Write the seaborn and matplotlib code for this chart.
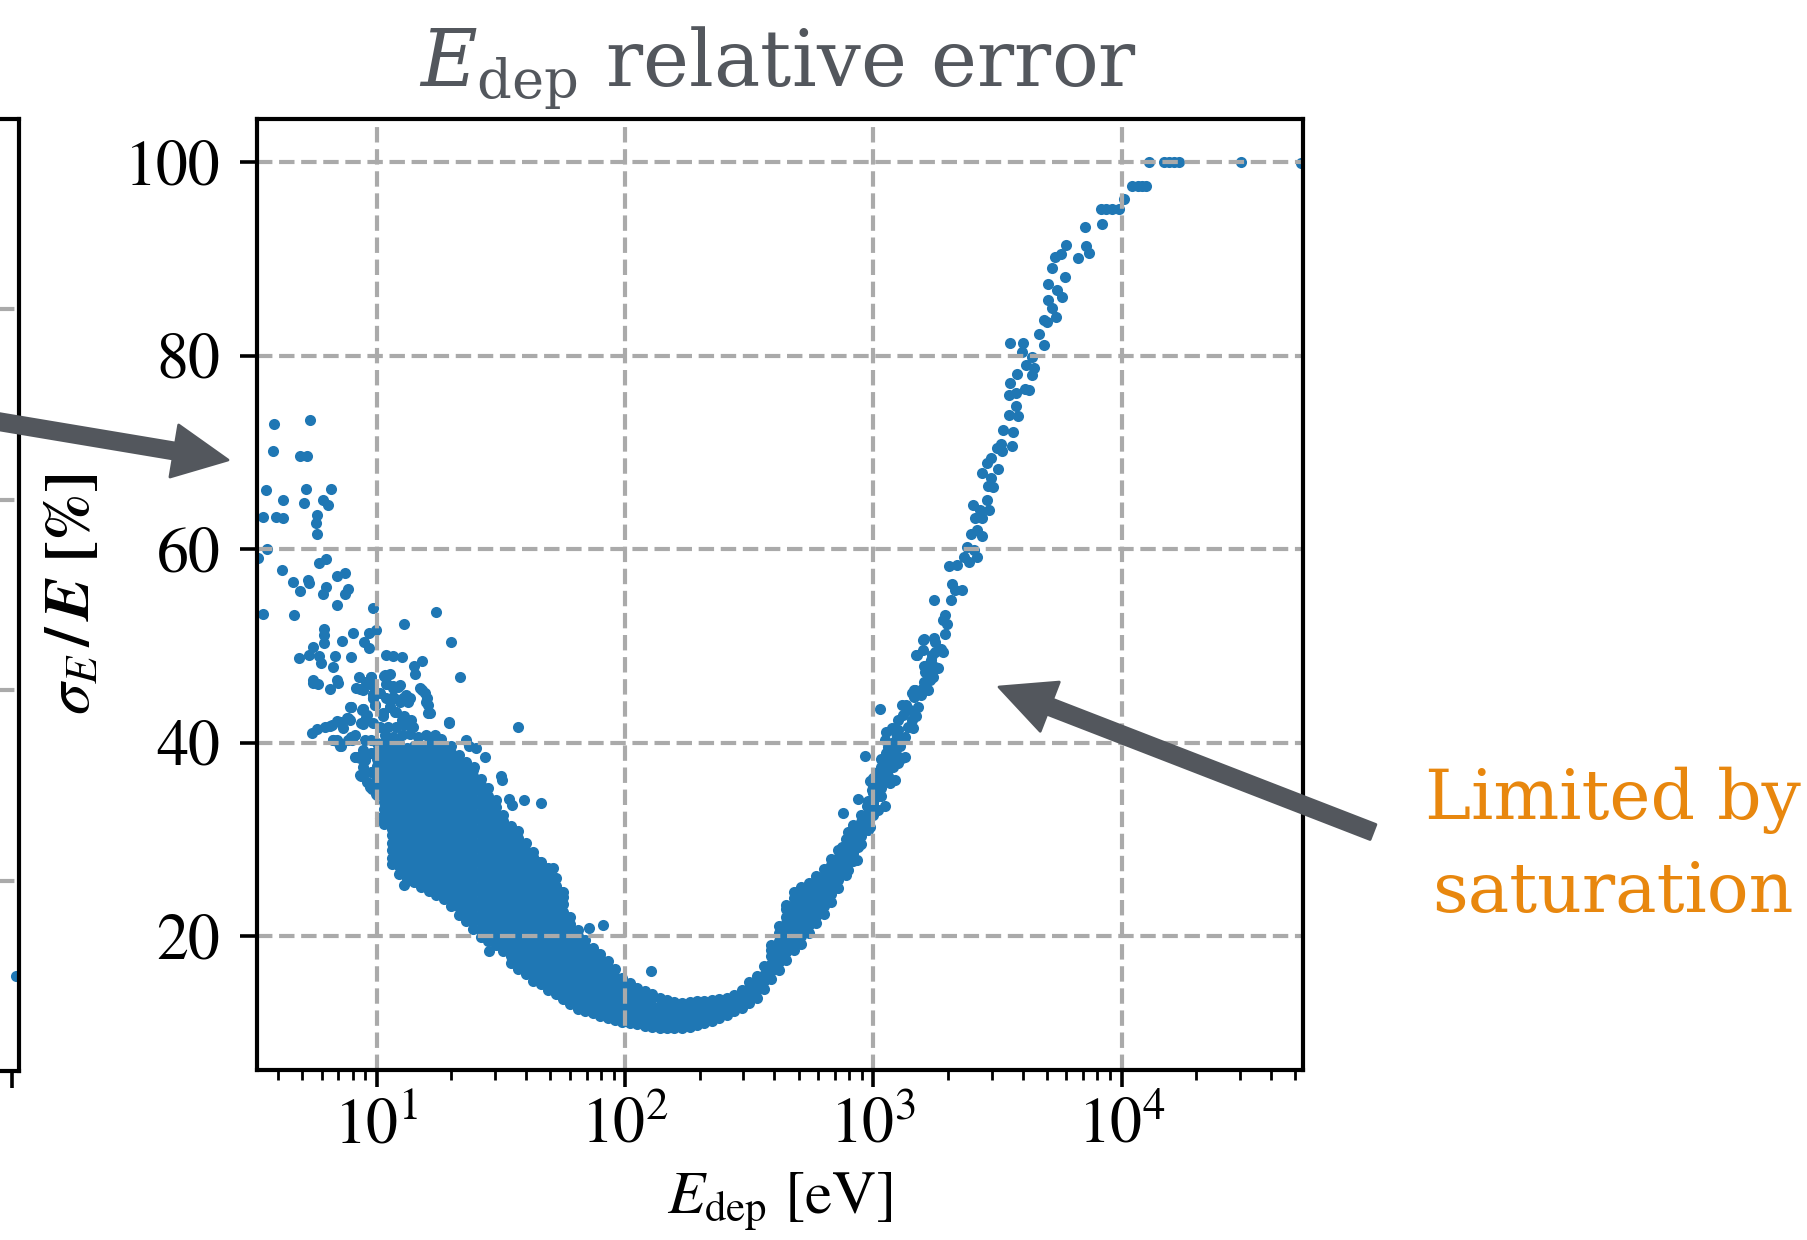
import matplotlib
matplotlib.use("Agg")
import matplotlib.pyplot as plt
import seaborn as sns
import numpy as np
from matplotlib.patches import FancyArrowPatch

# --- data ------------------------------------------------------------------
# dense band: one column of points per energy [eV]
band_e = [10.0, 10.7, 11.5, 12.3, 13.2, 14.1, 15.1, 16.2, 17.4, 18.6,
          20.0, 21.4, 22.9, 24.5, 26.3, 28.2, 30.2, 32.4, 34.7, 37.2,
          39.8, 42.7, 45.7, 49.0, 52.5, 56.2, 60.3, 64.6, 69.2, 74.1,
          79.4, 85.1, 91.2, 97.7, 105, 112, 120, 129, 138, 148,
          158, 170, 182, 195, 209, 224, 240, 257, 275, 295,
          316, 339, 363, 389, 417, 447, 479, 513, 550, 589,
          631, 676, 724, 776, 832, 891, 955, 1000, 1072, 1148, 1230]
band_y = [
    [34.6, 35.3, 36.1, 36.8, 37.6, 38.3, 39.1, 39.9],
    [31.6, 32.4, 33.1, 33.9, 34.6, 35.4, 36.1, 36.9, 37.6, 38.4, 39.1, 39.9],
    [27.4, 28.1, 28.9, 29.6, 30.4, 31.1, 31.9, 32.6, 33.4, 34.1, 34.9, 35.6, 36.4, 37.1, 37.9, 38.6, 39.4, 40.1],
    [26.4, 27.2, 27.9, 28.7, 29.4, 30.2, 30.9, 31.7, 32.4, 33.2, 33.9, 34.7, 35.4, 36.2, 36.9, 37.7, 38.4, 39.2, 39.9],
    [25.9, 26.6, 27.4, 28.1, 28.9, 29.6, 30.4, 31.1, 31.9, 32.6, 33.4, 34.1, 34.9, 35.6, 36.4, 37.1, 37.9, 38.6, 39.4],
    [25.6, 26.3, 27.1, 27.8, 28.6, 29.3, 30.1, 30.8, 31.6, 32.3, 33.1, 33.8, 34.6, 35.3, 36.1, 36.8, 37.6, 38.3, 39.1, 39.6],
    [25.1, 25.9, 26.6, 27.4, 28.1, 28.9, 29.6, 30.4, 31.1, 31.9, 32.6, 33.4, 34.1, 34.9, 35.6, 36.4, 37.1, 37.9, 38.6, 39.4],
    [24.7, 25.4, 26.2, 26.9, 27.7, 28.4, 29.2, 29.9, 30.7, 31.4, 32.2, 32.9, 33.7, 34.4, 35.2, 35.9, 36.7, 37.4, 38.2, 38.9, 39.7],
    [24.2, 25.0, 25.7, 26.5, 27.2, 28.0, 28.7, 29.5, 30.2, 31.0, 31.7, 32.5, 33.2, 34.0, 34.7, 35.5, 36.2, 37.0, 37.7, 38.5, 39.2, 40.0],
    [23.8, 24.5, 25.3, 26.0, 26.8, 27.5, 28.3, 29.0, 29.8, 30.5, 31.3, 32.0, 32.8, 33.5, 34.3, 35.0, 35.8, 36.5, 37.3, 38.0, 38.8, 39.5],
    [23.1, 23.9, 24.6, 25.4, 26.1, 26.9, 27.6, 28.4, 29.1, 29.9, 30.6, 31.4, 32.1, 32.9, 33.6, 34.4, 35.1, 35.9, 36.6, 37.4, 38.1, 38.9, 39.6],
    [22.2, 23.0, 23.7, 24.5, 25.2, 26.0, 26.7, 27.5, 28.2, 29.0, 29.7, 30.5, 31.2, 32.0, 32.7, 33.5, 34.2, 35.0, 35.7, 36.5, 37.2, 38.0, 38.7],
    [21.5, 22.2, 23.0, 23.7, 24.5, 25.2, 26.0, 26.7, 27.5, 28.2, 29.0, 29.7, 30.5, 31.2, 32.0, 32.7, 33.5, 34.2, 35.0, 35.7, 36.5, 37.2, 38.0],
    [20.7, 21.5, 22.2, 23.0, 23.7, 24.5, 25.2, 26.0, 26.7, 27.5, 28.2, 29.0, 29.7, 30.5, 31.2, 32.0, 32.7, 33.5, 34.2, 35.0, 35.7, 36.5, 37.2],
    [19.9, 20.6, 21.4, 22.1, 22.9, 23.6, 24.4, 25.1, 25.9, 26.6, 27.4, 28.1, 28.9, 29.6, 30.4, 31.1, 31.9, 32.6, 33.4, 34.1, 34.9, 35.6, 36.2],
    [19.5, 20.3, 21.0, 21.8, 22.5, 23.3, 24.0, 24.8, 25.5, 26.3, 27.0, 27.8, 28.5, 29.3, 30.0, 30.8, 31.5, 32.3, 33.0, 33.8, 34.5, 35.3],
    [19.1, 19.8, 20.6, 21.3, 22.1, 22.8, 23.6, 24.3, 25.1, 25.8, 26.6, 27.3, 28.1, 28.8, 29.6, 30.3, 31.1, 31.8, 32.6, 33.3, 34.1],
    [18.4, 19.2, 19.9, 20.7, 21.4, 22.2, 22.9, 23.7, 24.4, 25.2, 25.9, 26.7, 27.4, 28.2, 28.9, 29.7, 30.4, 31.2, 31.9, 32.5],
    [17.2, 17.9, 18.7, 19.4, 20.2, 20.9, 21.7, 22.4, 23.2, 23.9, 24.7, 25.4, 26.2, 26.9, 27.7, 28.4, 29.2, 29.9, 30.7, 31.4],
    [16.6, 17.4, 18.1, 18.9, 19.6, 20.4, 21.1, 21.9, 22.6, 23.4, 24.1, 24.9, 25.6, 26.4, 27.1, 27.9, 28.6, 29.4, 30.1, 30.9],
    [16.1, 16.8, 17.6, 18.3, 19.1, 19.8, 20.6, 21.3, 22.1, 22.8, 23.6, 24.3, 25.1, 25.8, 26.6, 27.3, 28.1, 28.8, 29.6],
    [15.4, 16.2, 16.9, 17.7, 18.4, 19.2, 19.9, 20.7, 21.4, 22.2, 22.9, 23.7, 24.4, 25.2, 25.9, 26.7, 27.4, 28.2, 28.7],
    [15.0, 15.7, 16.5, 17.2, 18.0, 18.7, 19.5, 20.2, 21.0, 21.7, 22.5, 23.2, 24.0, 24.7, 25.5, 26.2, 27.0, 27.7],
    [14.4, 15.2, 15.9, 16.7, 17.4, 18.2, 18.9, 19.7, 20.4, 21.2, 21.9, 22.7, 23.4, 24.2, 24.9, 25.7, 26.4, 27.0],
    [14.0, 14.7, 15.5, 16.2, 17.0, 17.7, 18.5, 19.2, 20.0, 20.7, 21.5, 22.2, 23.0, 23.7, 24.5, 25.2, 26.0],
    [13.5, 14.3, 15.0, 15.8, 16.5, 17.3, 18.0, 18.8, 19.5, 20.3, 21.0, 21.8, 22.5, 23.3, 24.0, 24.5],
    [13.0, 13.7, 14.5, 15.2, 16.0, 16.7, 17.5, 18.2, 19.0, 19.7, 20.5, 21.2, 22.0],
    [12.5, 13.3, 14.0, 14.8, 15.5, 16.3, 17.0, 17.8, 18.5, 19.3, 20.0, 20.6],
    [12.2, 12.9, 13.7, 14.4, 15.2, 15.9, 16.7, 17.4, 18.2, 18.9, 19.6],
    [12.0, 12.8, 13.5, 14.3, 15.0, 15.8, 16.5, 17.3, 18.0, 18.8],
    [11.7, 12.4, 13.2, 13.9, 14.7, 15.4, 16.2, 16.9, 17.7, 18.1],
    [11.5, 12.3, 13.0, 13.8, 14.5, 15.3, 16.0, 16.8, 17.4],
    [11.3, 12.0, 12.8, 13.5, 14.3, 15.0, 15.8, 16.6],
    [11.1, 11.9, 12.6, 13.4, 14.1, 14.9, 15.7],
    [11.0, 11.7, 12.5, 13.2, 14.0, 14.7, 15.1],
    [10.9, 11.6, 12.4, 13.1, 13.9, 14.6],
    [10.7, 11.5, 12.2, 13.0, 13.7, 14.3],
    [10.6, 11.3, 12.1, 12.8, 13.6, 14.0],
    [10.5, 11.3, 12.0, 12.8, 13.6],
    [10.5, 11.2, 12.0, 12.7, 13.4],
    [10.5, 11.3, 12.0, 12.8, 13.2],
    [10.5, 11.2, 12.0, 12.7, 13.1],
    [10.6, 11.4, 12.1, 12.9, 13.2],
    [10.8, 11.5, 12.3, 13.0, 13.3],
    [11.0, 11.8, 12.5, 13.3],
    [11.2, 11.9, 12.7, 13.4],
    [11.5, 12.3, 13.0, 13.5],
    [11.8, 12.5, 13.2, 13.6],
    [12.2, 12.9, 13.6, 13.9],
    [12.6, 13.3, 14.0, 14.4],
    [13.1, 13.8, 14.6, 15.2],
    [13.6, 14.4, 15.1, 15.9],
    [14.5, 15.3, 16.0, 16.9],
    [15.6, 16.4, 17.1, 17.9, 18.6, 19.1],
    [16.5, 17.3, 18.0, 18.8, 19.5, 20.3, 21.0],
    [17.5, 18.3, 19.0, 19.8, 20.5, 21.3, 22.0, 22.8, 23.2],
    [18.6, 19.4, 20.1, 20.9, 21.6, 22.4, 23.1, 23.9, 24.6],
    [19.2, 20.0, 20.7, 21.5, 22.2, 23.0, 23.7, 24.5, 25.1],
    [20.3, 21.1, 21.8, 22.6, 23.3, 24.1, 24.8, 25.5],
    [21.3, 22.1, 22.8, 23.6, 24.3, 25.1, 25.8, 26.2],
    [22.3, 23.1, 23.8, 24.6, 25.3, 26.1, 26.9],
    [23.5, 24.3, 25.0, 25.8, 26.5, 27.3, 28.0],
    [25.0, 25.8, 26.5, 27.3, 28.1, 28.9],
    [26.3, 27.0, 27.8, 28.5, 29.3, 30.0],
    [27.8, 28.6, 29.3, 30.1, 30.8, 31.5],
    [29.5, 30.3, 31.0, 31.8, 32.5],
    [31.0, 31.8, 32.5, 33.3, 34.0],
    [32.5, 33.3, 34.0, 34.8, 35.5, 36.3],
    [34.5, 35.3, 36.0, 36.8, 37.5, 38.3],
    [36.5, 37.3, 38.0, 38.8, 39.5],
    [38.0, 38.8, 39.5, 40.3, 41.0],
]

# scattered points at low energy (left wing)
left_e = [3.87, 5.38, 3.81, 4.92, 5.23, 3.58, 5.19, 6.52, 4.21, 5.11,
          6.05, 6.34, 3.49, 3.93, 4.21, 5.74, 5.69, 5.73, 3.61, 3.34,
          4.15, 5.87, 6.24, 6.90, 7.46, 4.62, 5.27, 5.35, 4.92, 6.05,
          6.24, 7.46, 7.69, 6.90, 3.49, 4.63, 9.66, 17.3, 12.9, 19.9,
          6.14, 6.14, 6.14, 7.99, 7.28, 9.30, 9.90, 8.90, 9.30, 5.52,
          5.35, 5.83, 5.95, 4.85, 6.80, 6.68, 7.86, 10.9, 11.6, 12.6,
          15.2, 14.1, 5.52, 6.94, 8.49, 9.46, 10.7, 14.3, 21.7,
          5.56, 5.82, 6.48, 7.00, 8.57, 9.40, 9.69, 11.0, 12.2, 11.7,
          12.8, 13.4, 15.2, 15.9, 16.1, 16.4, 7.80, 8.69, 9.10, 8.83,
          7.57, 7.11, 5.47, 5.73, 6.19, 6.48, 7.00, 6.68, 7.92, 8.30,
          8.97, 8.57, 9.10, 9.55, 10.5, 19.6,
          9.50, 10.9, 8.28, 8.80, 11.6, 12.4, 13.1, 13.6, 15.0, 15.6,
          15.8, 16.1, 7.90, 8.80, 9.06, 9.66, 9.80, 10.6, 11.3, 11.9,
          12.6, 13.6, 14.0, 19.5, 37.0, 6.60, 7.10, 7.67, 7.90, 6.90,
          7.20, 8.15, 8.55, 8.95, 8.80, 9.50, 10.4, 10.3, 12.9, 17.1,
          18.2, 22.9, 23.6, 25.1, 27.2, 24.7, 21.9, 31.7, 31.9, 26.8,
          34.2, 35.2, 39.3, 45.8, 39.9, 45.1, 51.1, 55.3,
          10.3, 10.9, 11.6, 12.4, 11.3, 12.0, 12.9, 10.6, 10.3, 11.1,
          12.0, 12.9, 13.8, 10.8, 11.6, 12.6, 13.6, 14.7, 15.8, 16.8,
          11.6, 13.4, 9.08, 9.66, 9.51, 10.8, 11.3,
          7.91, 8.81, 9.08, 9.66, 9.82, 7.79, 8.68, 9.66, 6.89, 7.33,
          8.16, 8.95, 9.52, 8.81, 9.52, 8.28, 8.81, 9.52, 9.98, 8.68,
          9.37, 9.98, 6.68, 7.10, 7.67,
          28.4, 71.5, 81.6, 127]
left_y = [72.9, 73.3, 70.1, 69.6, 69.6, 66.1, 66.2, 66.2, 65.1, 64.8,
          65.1, 64.5, 63.3, 63.3, 63.2, 63.5, 62.7, 61.6, 60.0, 59.1,
          57.8, 58.6, 59.0, 57.2, 57.5, 56.6, 56.8, 56.5, 55.7, 55.4,
          56.1, 55.4, 55.9, 54.2, 53.3, 53.2, 53.9, 53.5, 52.3, 50.4,
          51.7, 51.1, 50.3, 51.3, 50.5, 51.3, 51.6, 50.4, 49.8, 49.9,
          49.0, 48.9, 48.2, 48.7, 48.9, 47.8, 48.8, 49.0, 48.9, 48.8,
          48.4, 47.9, 46.5, 46.5, 46.8, 46.8, 46.9, 47.1, 46.8,
          46.2, 46.0, 45.5, 46.2, 45.5, 46.1, 45.0, 46.1, 45.7, 44.6,
          44.6, 44.3, 45.4, 44.6, 43.9, 43.0, 43.7, 43.4, 42.8, 41.9,
          42.5, 42.1, 41.0, 41.4, 41.6, 41.7, 40.1, 40.3, 40.3, 38.5,
          38.3, 36.6, 35.9, 35.2, 32.3, 42.0,
          46.1, 46.1, 45.6, 45.4, 45.6, 45.9, 44.9, 44.6, 45.6, 45.1,
          44.2, 43.1, 43.7, 43.5, 42.5, 44.6, 43.9, 43.0, 43.7, 43.2,
          42.3, 41.8, 41.6, 42.1, 41.6, 41.8, 42.1, 42.5, 40.6, 40.3,
          39.6, 38.5, 38.4, 38.2, 36.6, 35.4, 35.1, 32.2, 25.3, 40.8,
          40.4, 40.3, 39.6, 39.4, 38.5, 37.5, 37.5, 36.5, 36.1, 35.1,
          34.2, 33.5, 34.1, 33.8, 28.2, 27.7, 27.0, 24.6,
          45.1, 44.6, 44.7, 44.2, 43.7, 43.2, 42.7, 42.7, 41.6, 41.6,
          41.6, 41.8, 42.3, 40.8, 40.6, 40.8, 40.9, 40.6, 40.8, 40.6,
          45.8, 44.2, 46.3, 46.1, 46.8, 47.0, 47.1,
          43.7, 43.5, 42.5, 44.6, 43.9, 42.3, 42.0, 42.0, 42.2, 41.5,
          40.8, 40.3, 40.3, 39.2, 38.9, 38.5, 37.5, 37.0, 36.1, 36.5,
          35.4, 34.7, 40.3, 39.6, 40.3,
          18.5, 20.8, 21.1, 16.4]

# rising arm above ~1 keV
arm_e = [690, 735, 793, 746, 818, 857, 782, 832, 871, 897,
         793, 757, 927, 971, 984, 871, 940, 1000, 1030, 1047,
         1114, 984, 1064, 971, 1114, 1167, 1222, 1047, 1130, 1202,
         1259, 1148, 1300, 1340, 927, 1130, 1222, 1186, 1279, 1114,
         1340, 1130, 1186, 1259, 1384, 1449, 1259, 1318, 1426, 1493,
         1300, 1069, 1403, 1517, 1426, 1469, 1563, 1589, 1663, 1611,
         1690, 1742, 1611, 1770, 1663, 1714, 1824, 1503, 1589, 1770,
         1879, 1770, 1589,
         1941, 1905, 1977, 1941, 1603, 1762, 1832, 1905, 1483, 1730,
         1603, 1663, 1762, 1698, 1603, 1455, 1542, 1349, 1455]
arm_y = [27.2, 27.9, 26.8, 29.2, 28.5, 27.9, 29.9, 30.3, 29.2, 31.3,
         30.8, 32.7, 32.0, 31.3, 32.7, 34.2, 33.4, 33.7, 34.4, 33.0,
         33.4, 35.1, 35.4, 36.0, 36.3, 35.8, 36.1, 37.0, 37.2, 37.5,
         37.9, 38.2, 38.4, 38.5, 38.6, 38.9, 39.2, 39.9, 39.6, 40.3,
         40.6, 41.1, 41.5, 41.3, 41.6, 41.5, 42.3, 42.8, 42.3, 42.7,
         43.9, 43.5, 43.4, 43.7, 45.1, 45.4, 44.9, 45.6, 45.4, 46.3,
         46.6, 46.8, 47.3, 47.8, 48.0, 48.5, 47.7, 49.0, 49.6, 49.4,
         49.7, 50.4, 50.6,
         53.2, 52.7, 52.3, 51.2, 50.7, 50.8, 49.7, 49.4, 49.0, 49.0,
         47.9, 47.6, 47.6, 46.5, 46.3, 45.4, 45.0, 43.9, 44.7]

# upper arm towards saturation
top_e = [11000, 11600, 12100, 12500, 10200, 8230, 8630, 9170, 9750, 8330,
         7120, 7160, 7390, 6680, 6000, 5370, 5710, 5260, 5930, 5070,
         5510, 5730, 5070, 5260, 5420, 4870, 5020, 4650, 4870, 3550,
         4020, 3980, 4370, 4140, 4440, 4370, 3800, 3540, 3520, 3740,
         4100, 4240, 3740, 3520, 3820, 3330, 3660, 3260, 3160, 3610,
         3290, 2860, 2970, 3180, 2750, 2970, 3040, 2900, 2860, 2510,
         2700, 2920, 2580, 2750, 2470, 2620, 2750, 2390, 2540, 2610,
         2320, 2430, 2020, 2180, 2080, 2140, 2280, 1750, 2050]
top_y = [97.5, 97.5, 97.5, 97.5, 96.2, 95.1, 95.1, 95.1, 95.1, 93.6,
         93.3, 91.3, 90.6, 90.1, 91.4, 90.2, 90.5, 89.0, 88.1, 87.4,
         86.8, 86.0, 85.7, 84.9, 84.0, 83.7, 83.5, 82.2, 81.1, 81.3,
         81.3, 80.4, 79.9, 79.0, 78.7, 78.0, 78.1, 77.2, 75.9, 76.1,
         76.5, 76.4, 74.8, 73.9, 73.7, 72.3, 72.1, 70.9, 70.4, 70.6,
         70.1, 68.9, 69.4, 68.3, 67.9, 67.3, 66.4, 66.5, 65.1, 64.6,
         64.0, 64.0, 63.2, 63.2, 61.6, 62.0, 61.3, 60.2, 59.9, 59.2,
         59.2, 58.7, 58.2, 58.3, 56.4, 55.8, 55.8, 54.7, 54.7]

# saturated pixels at 100 %
sat_e = [12900, 14800, 15500, 16300, 17000, 30300, 52600]
sat_y = [100, 100, 100, 100, 100, 100, 99.9]

# neighbouring panel, only its right edge is inside the frame
prev_x = [0.9967]
prev_y = [10.0]
prev_yticks = [20, 40, 60, 80]
prev_xticks = [0.9923]

yticks = [20, 40, 60, 80, 100]

# --- assemble -------------------------------------------------------------
e_all = [e for e, col in zip(band_e, band_y) for _ in col] + left_e + arm_e + top_e + sat_e
y_all = [v for col in band_y for v in col] + left_y + arm_y + top_y + sat_y

plt.rcParams.update({
    "font.family": "STIXGeneral",
    "mathtext.fontset": "stix",
    "axes.linewidth": 1.5,
    "xtick.major.size": 6, "xtick.minor.size": 3.5,
    "xtick.major.width": 1.3, "xtick.minor.width": 1.0,
    "ytick.major.size": 6, "ytick.major.width": 1.3,
    "xtick.labelsize": 23, "ytick.labelsize": 23,
    "xtick.major.pad": 4, "ytick.major.pad": 7,
    "grid.color": "#aaaaaa", "grid.linestyle": "--", "grid.linewidth": 1.5,
})

W, H = 1808, 1240
fig = plt.figure(figsize=(W / 200, H / 200), dpi=200)
ax = fig.add_axes([256.5 / W, 1 - 1070 / H, (1303 - 256.5) / W, (1070 - 119) / H])
ax0 = fig.add_axes([19 / W - 0.5, 1 - 1071 / H, 0.5, (1071 - 119) / H])

blue = "#1f77b4"
sns.scatterplot(x=e_all, y=y_all, ax=ax, s=16, color=blue, linewidth=0, zorder=1)
ax.set_xscale("log")
ax.set_xlim(3.28, 53800)
ax.set_ylim(6.15, 104.45)
ax.set_yticks(yticks)
ax.grid(True, which="major")
ax.set_axisbelow("line")

ax.set_xlabel(r"$E_{\rm dep}$ [eV]", fontsize=22)
ax.xaxis.set_label_coords(0.5, -0.106)
ax.set_ylabel(r"$\boldsymbol{\sigma_E\,/\,E}$ [%]", fontsize=23, fontweight="bold")
ax.yaxis.set_label_coords(-0.148, 0.5)

# cut-off left panel
sns.scatterplot(x=prev_x, y=prev_y, ax=ax0, s=16, color=blue, linewidth=0, zorder=1)
ax0.set_xlim(0, 1)
ax0.set_ylim(0, 100)
ax0.set_yticks(prev_yticks)
ax0.set_xticks(prev_xticks)
ax0.set_xticklabels([])
ax0.set_yticklabels([])
ax0.grid(True, axis="y")

grey = "#53575d"
fig.text(778 / W, 1 - 87 / H, r"$E_{\rm dep}$ relative error", ha="center", va="baseline",
         fontsize=28, color=grey, family="DejaVu Serif", math_fontfamily="dejavuserif")

orange = "#e8870e"
for txt, base in [("Limited by", 819), ("saturation", 912)]:
    fig.text(1613 / W, 1 - base / H, txt, ha="center", va="baseline",
             fontsize=25, color=orange, family="DejaVu Serif")

for tail, tip in [((1373, 832), (999, 687)), ((-5, 421), (228, 460))]:
    arr = FancyArrowPatch((tail[0] / W, 1 - tail[1] / H), (tip[0] / W, 1 - tip[1] / H),
                          transform=fig.transFigure, mutation_scale=20,
                          arrowstyle="simple,head_length=0.98,head_width=0.95,tail_width=0.29",
                          color=grey, shrinkA=0, shrinkB=0)
    fig.add_artist(arr)

fig.savefig("out.png", dpi=200)
